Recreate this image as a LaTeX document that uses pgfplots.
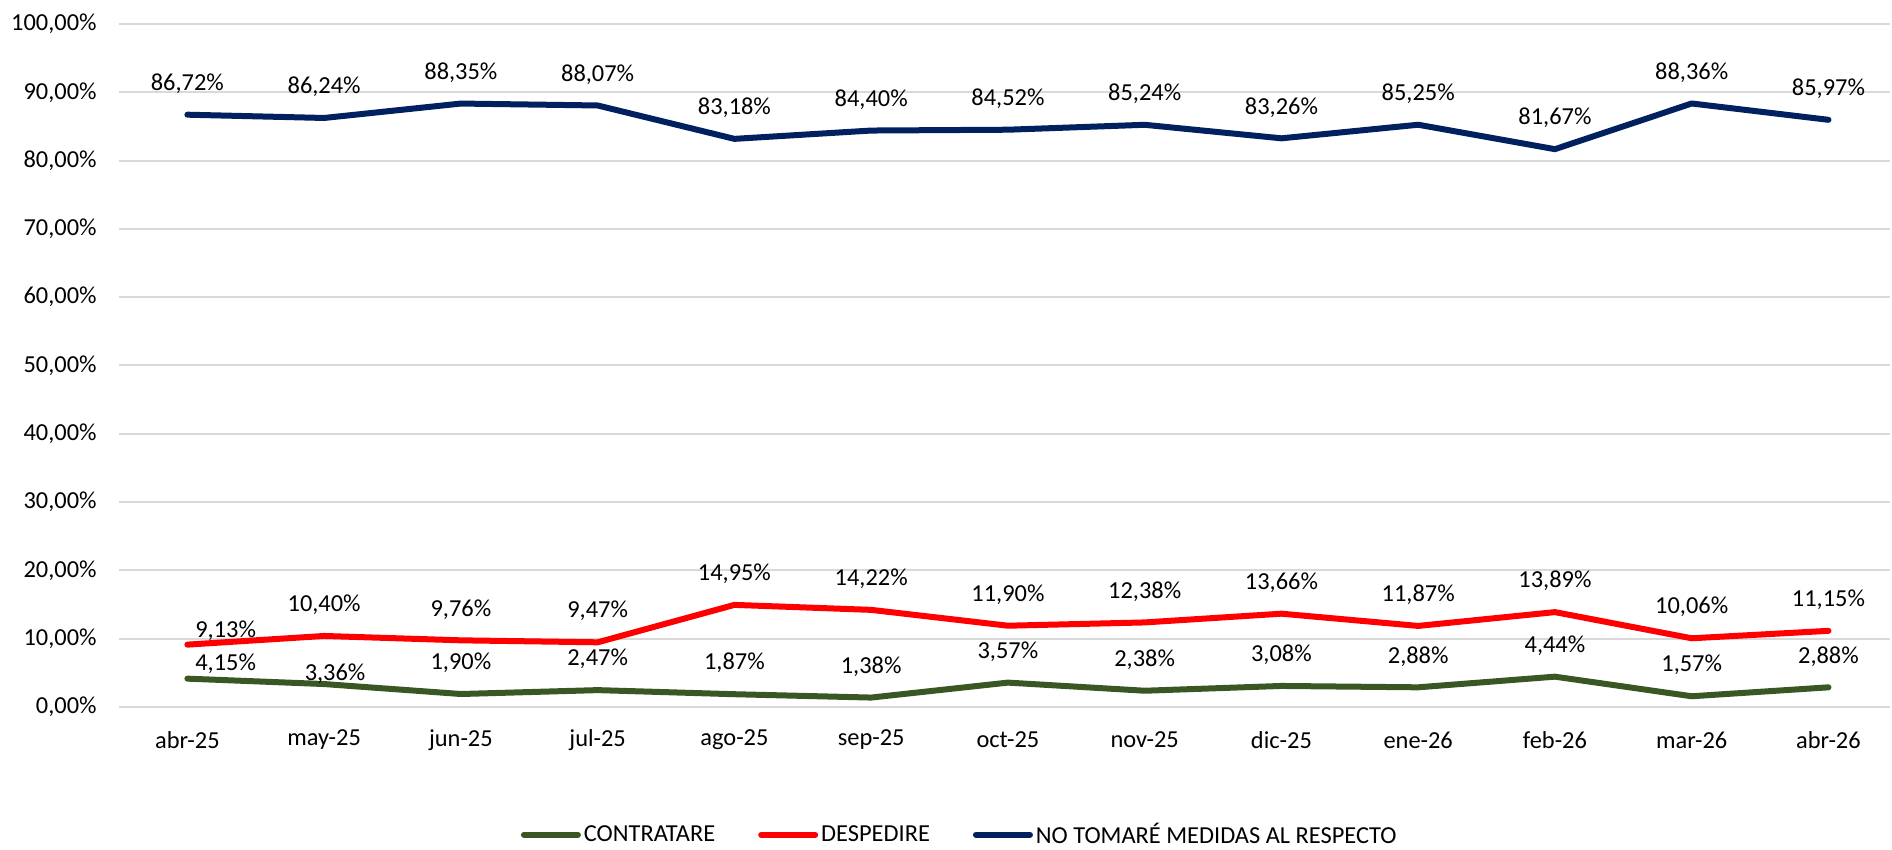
\documentclass[border=0pt]{standalone}
\usepackage{fontspec}
\setmainfont{Carlito}
\usepackage{pgfplots}
\pgfplotsset{compat=1.18}
\definecolor{cgreen}{HTML}{385723}
\definecolor{cred}{HTML}{FF0000}
\definecolor{cblue}{HTML}{002060}
\definecolor{cgrid}{HTML}{D9D9D9}
\newcommand{\lblfont}{\fontsize{12.2}{14.6}\selectfont}
\begin{document}
\begin{tikzpicture}
\useasboundingbox (0,0) rectangle (946pt,425pt);
\begin{axis}[
  at={(59.5pt,71.5pt)}, anchor=south west,
  scale only axis, width=885.5pt, height=341.5pt,
  xmin=-0.5, xmax=12.45, ymin=0, ymax=100,
  axis line style={draw=none},
  major tick length=0pt,
  xtick={0,...,12},
  xticklabels={abr-25,may-25,jun-25,jul-25,ago-25,sep-25,oct-25,nov-25,dic-25,ene-26,feb-26,mar-26,abr-26},
  ytick={0,10,...,100},
  yticklabels={{0,00\%},{10,00\%},{20,00\%},{30,00\%},{40,00\%},{50,00\%},{60,00\%},{70,00\%},{80,00\%},{90,00\%},{100,00\%}},
  ymajorgrids, grid style={cgrid, line width=1pt},
  tick label style={font=\lblfont, text=black},
  xticklabel style={anchor=center, inner sep=0pt, yshift=-16.5pt},
  yticklabel style={anchor=east, inner sep=0pt, xshift=-11pt},
  legend style={at={(0.475,-0.187)}, anchor=center, draw=none, fill=none,
    legend columns=-1, font=\lblfont,
    nodes={inner sep=1.5pt},
    /tikz/every even column/.append style={column sep=20pt}},
  legend image code/.code={\draw[#1] (0pt,0pt) -- (27pt,0pt);},
  nodes near coords={\pgfmathprintnumber[fixed, fixed zerofill, precision=2, use comma, assume math mode=true]{\pgfplotspointmeta}\%},
  every node near coord/.append style={anchor=center, inner sep=0pt, font=\lblfont, text=black},
  clip=false,
]
% lines
\addplot[cgreen, line width=3pt, line cap=round, line join=round, mark=none, nodes near coords={}] table {
x y
0 4.15
1 3.36
2 1.90
3 2.47
4 1.87
5 1.38
6 3.57
7 2.38
8 3.08
9 2.88
10 4.44
11 1.57
12 2.88
};
\addlegendentry{CONTRATARE}
\addplot[cred, line width=3pt, line cap=round, line join=round, mark=none, nodes near coords={}] table {
x y
0 9.13
1 10.40
2 9.76
3 9.47
4 14.95
5 14.22
6 11.90
7 12.38
8 13.66
9 11.87
10 13.89
11 10.06
12 11.15
};
\addlegendentry{DESPEDIRE}
\addplot[cblue, line width=3pt, line cap=round, line join=round, mark=none, nodes near coords={}] table {
x y
0 86.72
1 86.24
2 88.35
3 88.07
4 83.18
5 84.40
6 84.52
7 85.24
8 83.26
9 85.25
10 81.67
11 88.36
12 85.97
};
\addlegendentry{NO TOMARÉ MEDIDAS AL RESPECTO}
% data labels (x, label position, value)
\addplot[draw=none, mark=none, forget plot, point meta=explicit] table[x=x, y=ly, meta=v] {
x ly v
0.28 6.30 4.15
1.08 4.93 3.36
2 6.45 1.90
3 7.02 2.47
4 6.42 1.87
5 5.93 1.38
6 8.12 3.57
7 6.93 2.38
8 7.63 3.08
9 7.43 2.88
10 8.99 4.44
11 6.12 1.57
12 7.43 2.88
};
\addplot[draw=none, mark=none, forget plot, point meta=explicit] table[x=x, y=ly, meta=v] {
x ly v
0.28 11.10 9.13
1 14.95 10.40
2 14.31 9.76
3 14.02 9.47
4 19.50 14.95
5 18.77 14.22
6 16.45 11.90
7 16.93 12.38
8 18.21 13.66
9 16.42 11.87
10 18.44 13.89
11 14.61 10.06
12 15.70 11.15
};
\addplot[draw=none, mark=none, forget plot, point meta=explicit] table[x=x, y=ly, meta=v] {
x ly v
0 91.27 86.72
1 90.79 86.24
2 92.90 88.35
3 92.62 88.07
4 87.73 83.18
5 88.95 84.40
6 89.07 84.52
7 89.79 85.24
8 87.81 83.26
9 89.80 85.25
10 86.22 81.67
11 92.91 88.36
12 90.52 85.97
};
\end{axis}
\end{tikzpicture}
\end{document}
